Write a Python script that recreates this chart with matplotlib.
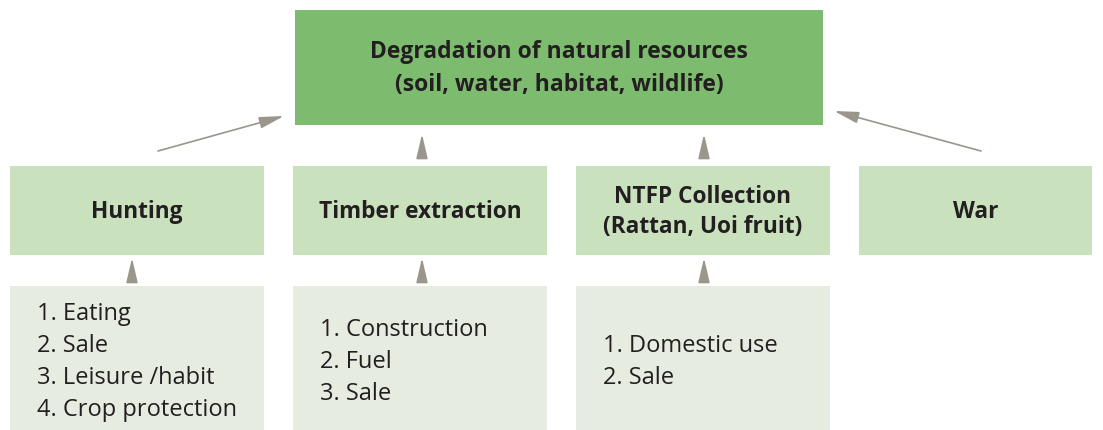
import matplotlib.pyplot as plt
from matplotlib.patches import Rectangle, FancyArrowPatch

plt.rcParams['font.family'] = ['Open Sans', 'DejaVu Sans']

top_label = "Degradation of natural resources\n(soil, water, habitat, wildlife)"
drivers = ["Hunting", "Timber extraction", "NTFP Collection\n(Rattan, Uoi fruit)", "War"]
reasons = [
    ["1. Eating", "2. Sale", "3. Leisure /habit", "4. Crop protection"],
    ["1. Construction", "2. Fuel", "3. Sale"],
    ["1. Domestic use", "2. Sale"],
]

top_col = "#7dbb6f"
mid_col = "#c9e1bd"
low_col = "#e6ece0"
arrow_col = "#9a968c"
txt_col = "#231f20"

fig = plt.figure(figsize=(11.03, 4.30), dpi=100)
ax = fig.add_axes([0, 0, 1, 1])
ax.set_xlim(0, 1103)
ax.set_ylim(430, 0)
ax.axis("off")

# top box
ax.add_patch(Rectangle((295, 10), 528, 115, color=top_col, lw=0))
ax.text(559, 69, top_label, ha="center", va="center", fontsize=16.5,
        fontweight="bold", color=txt_col, linespacing=1.5)

mid_x = [10, 293, 576, 859]
mid_w = [254, 254, 254, 233]
for x, w, lab in zip(mid_x, mid_w, drivers):
    ax.add_patch(Rectangle((x, 166), w, 89, color=mid_col, lw=0))
    ax.text(x + w / 2, 212, lab, ha="center", va="center", fontsize=16.3,
            fontweight="bold", color=txt_col, linespacing=1.35)

starts = [314, 330, 346]
for x, lines, y0 in zip(mid_x[:3], reasons, starts):
    ax.add_patch(Rectangle((x, 286), 254, 144, color=low_col, lw=0))
    for i, line in enumerate(lines):
        ax.text(x + 27, y0 + i * 32, line, ha="left", va="center",
                fontsize=17, color=txt_col)


def arrow(p0, p1):
    ax.add_patch(FancyArrowPatch(p0, p1, arrowstyle="-|>,head_length=15,head_width=3.5",
                                 color=arrow_col, lw=1.2, mutation_scale=1,
                                 shrinkA=0, shrinkB=0))


arrow((158, 151), (284, 116))
arrow((981, 151), (834, 111))
for cx in [422, 704]:
    arrow((cx, 158), (cx, 134))
for cx in [132, 422, 704]:
    arrow((cx, 281), (cx, 258))

fig.savefig("out.png", dpi=100)
